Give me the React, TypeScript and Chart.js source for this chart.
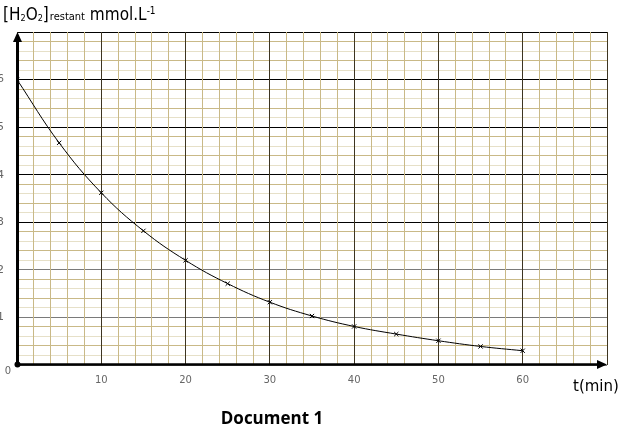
import React, { useEffect, useRef } from "react";
import { Chart, registerables } from "chart.js";
Chart.register(...registerables);

const times = [0, 5, 10, 15, 20, 25, 30, 35, 40, 45, 50, 55, 60];
const concentrations = [6.0, 4.67, 3.62, 2.82, 2.2, 1.71, 1.32, 1.03, 0.81, 0.65, 0.51, 0.39, 0.3];
const xTickLabels = [10, 20, 30, 40, 50, 60];
const yTickLabels = [1, 2, 3, 4, 5, 6];
const xMax = 70;
const yMax = 7;

const axesPlugin = {
  id: "axesArrows",
  afterDatasetsDraw(chart: any) {
    const { ctx, scales } = chart;
    const x = scales.x;
    const y = scales.y;
    const x0 = x.getPixelForValue(0);
    const y0 = y.getPixelForValue(0) - 0.5;
    const xEnd = x.getPixelForValue(xMax);
    const yEnd = y.getPixelForValue(yMax);
    ctx.save();
    ctx.strokeStyle = "#000";
    ctx.fillStyle = "#000";
    ctx.lineWidth = 3;
    ctx.beginPath();
    ctx.moveTo(x0 + 0.5, y0);
    ctx.lineTo(x0 + 0.5, yEnd + 8);
    ctx.stroke();
    ctx.beginPath();
    ctx.moveTo(x0 + 0.5, yEnd);
    ctx.lineTo(x0 - 4, yEnd + 10);
    ctx.lineTo(x0 + 5, yEnd + 10);
    ctx.closePath();
    ctx.fill();
    ctx.lineWidth = 2.5;
    ctx.beginPath();
    ctx.moveTo(x0, y0);
    ctx.lineTo(xEnd - 8, y0);
    ctx.stroke();
    ctx.beginPath();
    ctx.moveTo(xEnd, y0);
    ctx.lineTo(xEnd - 10, y0 - 4.5);
    ctx.lineTo(xEnd - 10, y0 + 4.5);
    ctx.closePath();
    ctx.fill();
    ctx.beginPath();
    ctx.arc(x0 + 0.5, y0, 3, 0, Math.PI * 2);
    ctx.fill();

    ctx.font = '10px "DejaVu Sans"';
    ctx.fillStyle = "#666";
    ctx.textAlign = "center";
    ctx.textBaseline = "middle";
    xTickLabels.forEach((v) => ctx.fillText(String(v), x.getPixelForValue(v), y0 + 16));
    ctx.font = '11px "DejaVu Sans"';
    ctx.textAlign = "right";
    yTickLabels.forEach((v) => ctx.fillText(String(v), 4, y.getPixelForValue(v)));
    ctx.font = '10px "DejaVu Sans"';
    ctx.textAlign = "center";
    ctx.fillText("0", x0 - 9, y0 + 7);
    ctx.restore();
  },
};

export default function App() {
  const ref = useRef<HTMLCanvasElement>(null);
  useEffect(() => {
    if (!ref.current) return;
    const chart = new Chart(ref.current, {
      type: "line",
      data: {
        datasets: [
          {
            data: times.map((t, i) => ({ x: t, y: concentrations[i] })),
            borderColor: "#000",
            borderWidth: 1,
            tension: 0.4,
            pointStyle: "crossRot",
            pointRadius: 3,
            pointBorderWidth: 1,
            pointBorderColor: "#000",
            fill: false,
          },
        ],
      },
      options: {
        animation: false,
        responsive: false,
        devicePixelRatio: 1,
        layout: { padding: { left: 17, top: 32, right: 15, bottom: 63 } },
        plugins: { legend: { display: false }, tooltip: { enabled: false } },
        scales: {
          x: {
            type: "linear",
            min: 0,
            max: xMax,
            ticks: { stepSize: 2, display: false, maxTicksLimit: 200 },
            border: { display: false },
            grid: {
              z: -1,
              drawTicks: false,
              lineWidth: 1,
              color: (c: any) => {
                const v = Math.round(c.tick.value);
                return v % 10 === 0 ? "#3d3522" : "#c9b987";
              },
            },
          },
          y: {
            type: "linear",
            min: 0,
            max: yMax,
            ticks: { stepSize: 0.2, display: false, maxTicksLimit: 200 },
            border: { display: false },
            grid: {
              z: -2,
              drawTicks: false,
              lineWidth: 1,
              color: (c: any) => {
                const k = Math.round(c.tick.value * 5);
                if (k % 5 === 0) {
                  const v = k / 5;
                  return v >= 3 ? "#000" : "#7a7a7a";
                }
                const r = k % 5;
                return r === 2 || r === 4 ? "#c9b987" : "#e6e0c8";
              },
            },
          },
        },
      },
      plugins: [axesPlugin],
    });
    return () => chart.destroy();
  }, []);

  return (
    <div style={{ position: "fixed", left: 0, top: 0, width: 622, height: 428, background: "#fff" }}>
      <canvas ref={ref} width={622} height={428} style={{ position: "absolute", left: 0, top: 0 }} />
      <div
        style={{
          position: "absolute",
          left: 3,
          top: 6,
          fontFamily: '"DejaVu Sans Condensed", "DejaVu Sans", sans-serif',
          fontStretch: "condensed",
          fontSize: 17,
          lineHeight: 1,
          whiteSpace: "nowrap",
          color: "#000",
        }}
      >
        [H<span style={{ fontSize: 9, position: "relative", top: 1 }}>2</span>O
        <span style={{ fontSize: 9, position: "relative", top: 1 }}>2</span>]
        <span style={{ fontSize: 11, marginLeft: 1 }}>restant</span> mmol.L
        <span style={{ fontSize: 10, position: "relative", top: -6 }}>-1</span>
      </div>
      <div
        style={{
          position: "absolute",
          left: 573,
          top: 379,
          fontFamily: '"DejaVu Sans", sans-serif',
          fontSize: 15,
          lineHeight: 1,
          whiteSpace: "nowrap",
          color: "#000",
        }}
      >
        t(min)
      </div>
      <div
        style={{
          position: "absolute",
          left: 0,
          width: 544,
          top: 409,
          textAlign: "center",
          fontFamily: '"Open Sans", sans-serif',
          fontWeight: 700,
          fontSize: 17,
          lineHeight: 1,
          whiteSpace: "nowrap",
          color: "#000",
        }}
      >
        Document 1
      </div>
    </div>
  );
}
